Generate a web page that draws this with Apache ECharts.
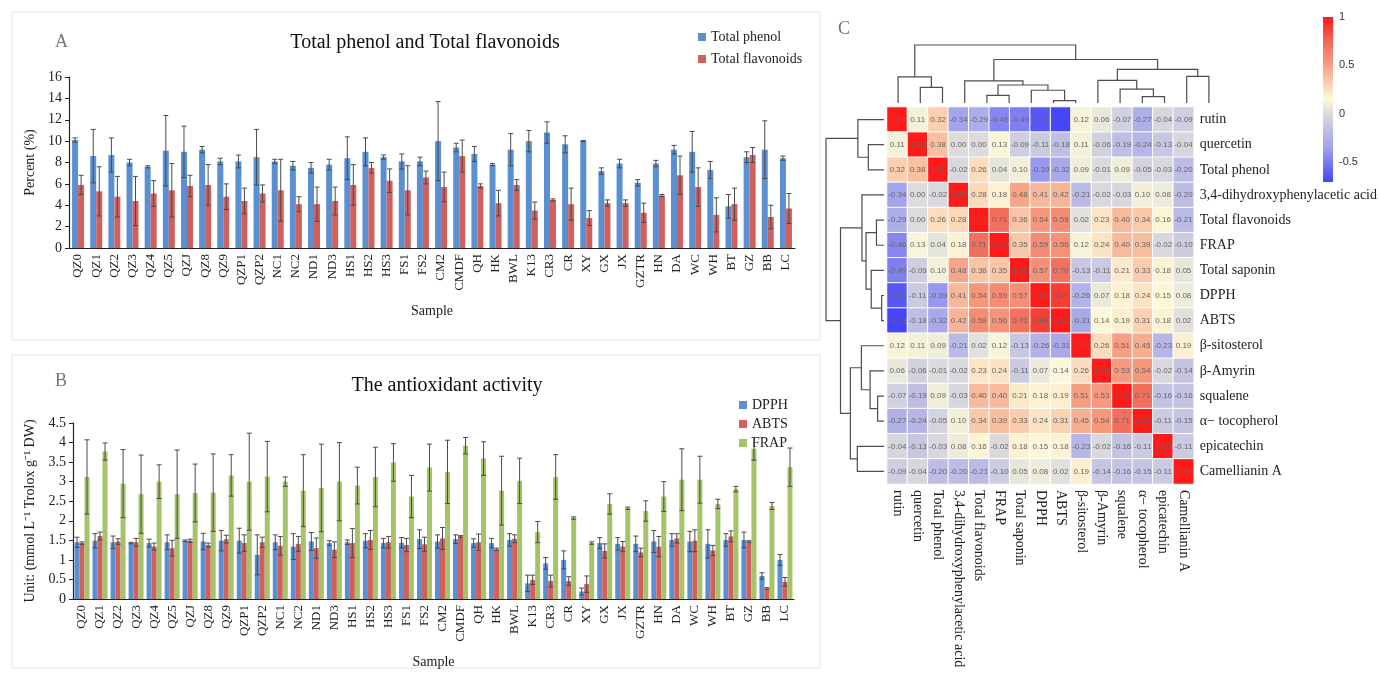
<!DOCTYPE html>
<html><head><meta charset="utf-8">
<script src="https://cdn.jsdelivr.net/npm/echarts@6/dist/echarts.min.js"></script>
<style>html,body{margin:0;padding:0;background:#fff}#c{width:1380px;height:677px}</style>
</head><body><div id="c"></div>
<script>
const samples = ['QZ0','QZ1','QZ2','QZ3','QZ4','QZ5','QZJ','QZ8','QZ9','QZP1','QZP2','NC1','NC2','ND1','ND3','HS1','HS2','HS3','FS1','FS2','CM2','CMDF','QH','HK','BWL','K13','CR3','CR','XY','GX','JX','GZTR','HN','DA','WC','WH','BT','GZ','BB','LC'];
const phenol = [10.1,8.6,8.7,8.0,7.6,9.1,9.0,9.2,8.1,8.1,8.5,8.1,7.7,7.5,7.8,8.4,9.0,8.5,8.1,8.1,10.0,9.4,8.8,7.8,9.2,10.0,10.8,9.7,10.0,7.2,7.9,6.1,7.9,9.2,9.0,7.3,3.9,8.5,9.2,8.4];
const phenolErr = [0.2,2.5,1.6,0.3,0.1,3.3,2.4,0.3,0.3,0.6,2.6,0.2,0.4,0.5,0.5,2.0,1.3,0.2,0.7,0.4,3.7,0.4,0.7,0.1,1.5,1.0,1.0,0.8,0.05,0.3,0.4,0.3,0.3,0.4,1.9,0.8,1.1,0.5,2.7,0.2];
const flav = [5.9,5.3,4.8,4.4,5.1,5.4,5.8,5.9,4.8,4.4,5.1,5.4,4.1,4.1,4.4,5.9,7.5,6.3,5.4,6.6,5.7,8.6,5.8,4.2,5.9,3.5,4.5,4.1,2.8,4.2,4.2,3.3,4.9,6.8,5.7,3.1,4.1,8.7,2.9,3.7];
const flavErr = [0.9,2.3,1.9,2.3,1.2,2.5,1.0,1.9,1.2,1.2,0.8,2.9,0.7,1.6,1.3,1.9,0.5,1.1,2.3,0.6,1.4,1.5,0.2,1.2,0.5,0.8,0.1,1.5,0.7,0.3,0.3,0.9,0.1,1.8,1.8,1.6,1.5,0.7,1.1,1.4];
const dpph = [1.45,1.49,1.45,1.43,1.43,1.45,1.49,1.47,1.49,1.49,1.13,1.45,1.34,1.47,1.43,1.45,1.49,1.43,1.44,1.53,1.47,1.53,1.43,1.43,1.51,0.40,0.91,1.00,0.19,1.43,1.41,1.41,1.47,1.51,1.47,1.41,1.51,1.51,0.59,1.00];
const dpphErr = [0.13,0.18,0.16,0.02,0.1,0.19,0.02,0.21,0.26,0.32,0.51,0.19,0.33,0.23,0.06,0.06,0.18,0.12,0.13,0.24,0.17,0.11,0.11,0.12,0.16,0.21,0.15,0.23,0.09,0.14,0.16,0.2,0.28,0.16,0.26,0.36,0.16,0.2,0.08,0.14];
const abts = [1.43,1.61,1.47,1.45,1.34,1.30,1.49,1.38,1.53,1.43,1.45,1.36,1.41,1.30,1.26,1.43,1.51,1.45,1.38,1.40,1.55,1.60,1.45,1.27,1.54,0.49,0.46,0.46,0.38,1.23,1.34,1.19,1.34,1.55,1.49,1.24,1.60,1.47,0.27,0.44];
const abtsErr = [0.03,0.1,0.07,0.1,0.09,0.2,0.04,0.05,0.1,0.21,0.13,0.24,0.19,0.26,0.2,0.37,0.24,0.15,0.17,0.18,0.28,0.02,0.21,0.03,0.1,0.12,0.15,0.11,0.21,0.18,0.13,0.11,0.26,0.12,0.28,0.13,0.14,0.02,0.02,0.11];
const frap = [3.12,3.77,2.95,2.68,3.0,2.68,2.71,2.72,3.16,3.0,3.13,3.0,2.77,2.84,3.0,2.9,3.12,3.49,2.62,3.36,3.25,3.92,3.59,2.77,3.02,1.71,3.12,2.07,1.43,2.43,2.32,2.25,2.62,3.05,3.05,2.43,2.81,3.84,2.38,3.37];
const frapErr = [0.95,0.22,0.87,1.0,0.43,1.13,0.74,0.99,0.53,1.24,0.9,0.12,0.92,1.12,1.0,0.47,0.76,0.48,0.54,0.6,0.81,0.21,0.43,0.88,0.58,0.27,0.57,0.03,0.03,0.26,0.03,0.26,0.38,0.79,0.6,0.12,0.07,0.29,0.09,0.49];

const compounds = ['rutin','quercetin','Total phenol','3,4-dihydroxyphenylacetic acid','Total flavonoids','FRAP','Total saponin','DPPH','ABTS','β-sitosterol','β-Amyrin','squalene','α− tocopherol','epicatechin','Camellianin A'];
const corr = [
 [1.00,0.11,0.32,-0.34,-0.29,-0.46,-0.49,-0.64,-0.71,0.12,0.06,-0.07,-0.27,-0.04,-0.09],
 [0.11,1.00,0.38,0.00,0.00,0.13,-0.09,-0.11,-0.18,0.11,-0.06,-0.19,-0.24,-0.13,-0.04],
 [0.32,0.38,1.00,-0.02,0.26,0.04,0.10,-0.39,-0.32,0.09,-0.01,0.09,-0.05,-0.03,-0.20],
 [-0.34,0.00,-0.02,1.00,0.28,0.18,0.48,0.41,0.42,-0.21,-0.02,-0.03,0.10,0.08,-0.20],
 [-0.29,0.00,0.26,0.28,1.00,0.71,0.36,0.54,0.59,0.02,0.23,0.40,0.34,0.16,-0.21],
 [-0.46,0.13,0.04,0.18,0.71,1.00,0.35,0.59,0.56,0.12,0.24,0.40,0.39,-0.02,-0.10],
 [-0.49,-0.09,0.10,0.48,0.36,0.35,1.00,0.57,0.70,-0.13,-0.11,0.21,0.33,0.18,0.05],
 [-0.64,-0.11,-0.39,0.41,0.54,0.59,0.57,1.00,0.89,-0.26,0.07,0.18,0.24,0.15,0.08],
 [-0.71,-0.18,-0.32,0.42,0.59,0.56,0.70,0.89,1.00,-0.31,0.14,0.19,0.31,0.18,0.02],
 [0.12,0.11,0.09,-0.21,0.02,0.12,-0.13,-0.26,-0.31,1.00,0.26,0.51,0.45,-0.23,0.19],
 [0.06,-0.06,-0.01,-0.02,0.23,0.24,-0.11,0.07,0.14,0.26,1.00,0.53,0.54,-0.02,-0.14],
 [-0.07,-0.19,0.09,-0.03,0.40,0.40,0.21,0.18,0.19,0.51,0.53,1.00,0.71,-0.16,-0.16],
 [-0.27,-0.24,-0.05,0.10,0.34,0.39,0.33,0.24,0.31,0.45,0.54,0.71,1.00,-0.11,-0.15],
 [-0.04,-0.13,-0.03,0.08,0.16,-0.02,0.18,0.15,0.18,-0.23,-0.02,-0.16,-0.11,1.00,-0.11],
 [-0.09,-0.04,-0.20,-0.20,-0.21,-0.10,0.05,0.08,0.02,0.19,-0.14,-0.16,-0.15,-0.11,1.00]
];
// dendrogram merges: [childA, childB, height]; leaves 0..14, merged nodes 15..
const merges = [[7,8,0.04],[4,5,0.13],[11,12,0.11],[6,15,0.22],[1,2,0.27],[10,17,0.24],[16,18,0.31],[3,21,0.38],[9,20,0.39],[0,19,0.45],[13,14,0.46],[23,25,0.58],[22,26,0.75],[24,27,1.0]];
const colorTicks = [-0.5, 0, 0.5, 1];
const cMin = -0.71, cMax = 1;

const SERIF = "'Liberation Serif','Times New Roman',serif";
const SANS = "'Liberation Sans',Arial,sans-serif";
const stops = [[-0.71,'#4545fb'],[-0.35,'#a3a3ec'],[0,'#dcdcdc'],[0.15,'#fdf9d8'],[0.5,'#f6a084'],[0.8,'#f25a4c'],[1,'#ff1a1a']];
function hex2rgb(h){return [1,3,5].map(i=>parseInt(h.substr(i,2),16));}
function colorAt(v){
  for(let i=0;i<stops.length-1;i++){
    const [a,ca]=stops[i],[b,cb]=stops[i+1];
    if(v<=b){const t=(v-a)/(b-a);const A=hex2rgb(ca),B=hex2rgb(cb);
      return 'rgb('+A.map((x,k)=>Math.round(x+(B[k]-x)*t)).join(',')+')';}
  }
  return stops[stops.length-1][1];
}
const vmColors=[];for(let i=0;i<=40;i++){vmColors.push(colorAt(cMin+(cMax-cMin)*i/40));}

// dendrogram node positions
const pos=[],hgt=[];for(let i=0;i<15;i++){pos.push(i);hgt.push(0);}
const dendData=merges.map(m=>{const [a,b,h]=m;pos.push((pos[a]+pos[b])/2);hgt.push(h);return [pos[a],hgt[a],pos[b],hgt[b],h];});

const heatData=[];corr.forEach((row,r)=>row.forEach((v,c)=>heatData.push([c,r,v])));

function errSeries(vals,errs,offset,axis){
  return {type:'custom',xAxisIndex:axis,yAxisIndex:axis,silent:true,z:5,
    data:vals.map((v,i)=>[i,v,errs[i]]),
    renderItem(params,api){
      const i=api.value(0),v=api.value(1),e=api.value(2);
      const t=api.coord([i,v+e]),b=api.coord([i,Math.max(0,v-e)]);
      const x=t[0]+offset,c=2.5,st={stroke:'#4a4a4a',lineWidth:1};
      return {type:'group',children:[
        {type:'line',shape:{x1:x,y1:t[1],x2:x,y2:b[1]},style:st},
        {type:'line',shape:{x1:x-c,y1:t[1],x2:x+c,y2:t[1]},style:st},
        {type:'line',shape:{x1:x-c,y1:b[1],x2:x+c,y2:b[1]},style:st}]};
    }};
}
function dendSeries(axis,horizontal){
  return {type:'custom',xAxisIndex:axis,yAxisIndex:axis,silent:true,data:dendData,
    renderItem(params,api){
      const pa=api.value(0),ha=api.value(1),pb=api.value(2),hb=api.value(3),h=api.value(4);
      const P=horizontal?(p,hh)=>api.coord([hh,p]):(p,hh)=>api.coord([p,hh]);
      return {type:'polyline',shape:{points:[P(pa,ha),P(pa,h),P(pb,h),P(pb,hb)]},style:{stroke:'#4d4d4d',lineWidth:1.2,fill:null}};
    }};
}
const catAxis=(grid)=>({type:'category',gridIndex:grid,data:samples,
  axisLine:{lineStyle:{color:'#222',width:1.2}},axisTick:{show:false},
  axisLabel:{rotate:90,interval:0,fontFamily:SERIF,fontSize:13,color:'#222',margin:6},
  name:'Sample',nameLocation:'middle',nameGap:56,nameTextStyle:{fontFamily:SERIF,fontSize:14,color:'#222'}});

const chart=echarts.init(document.getElementById('c'));
chart.setOption({
  animation:false,
  graphic:[
    {type:'rect',shape:{x:12,y:12,width:808,height:328},style:{fill:null,stroke:'#e6e6e6',lineWidth:1}},
    {type:'rect',shape:{x:12,y:355,width:808,height:313},style:{fill:null,stroke:'#e6e6e6',lineWidth:1}},
    {type:'text',left:55,top:33,style:{text:'A',font:'18px '+SERIF,fill:'#777'}},
    {type:'text',left:55,top:372,style:{text:'B',font:'18px '+SERIF,fill:'#777'}},
    {type:'text',left:838,top:20,style:{text:'C',font:'18px '+SERIF,fill:'#777'}},
    {type:'text',x:425,y:43,style:{text:'Total phenol and Total flavonoids',font:'20px '+SERIF,fill:'#111',align:'center',verticalAlign:'middle'}},
    {type:'text',x:447,y:386,style:{text:'The antioxidant activity',font:'20px '+SERIF,fill:'#111',align:'center',verticalAlign:'middle'}}
  ],
  legend:[
    {left:693,top:25,orient:'vertical',itemWidth:8,itemHeight:8,itemGap:8,icon:'rect',
     textStyle:{fontFamily:SERIF,fontSize:14,color:'#222'},data:['Total phenol','Total flavonoids']},
    {left:734,top:393,orient:'vertical',itemWidth:8,itemHeight:8,itemGap:5,icon:'rect',
     textStyle:{fontFamily:SERIF,fontSize:14,color:'#222'},data:['DPPH','ABTS','FRAP']}
  ],
  grid:[
    {left:69,top:77,width:726,height:171},
    {left:73,top:423,width:721,height:176},
    {left:887,top:107,width:333,height:377},
    {left:887,top:45,width:333,height:58},
    {left:826,top:107,width:58,height:377},
    {left:1323,top:17,width:10,height:165}
  ],
  xAxis:[
    catAxis(0),catAxis(1),
    {type:'category',gridIndex:2,data:compounds,axisLine:{show:false},axisTick:{show:false},
     axisLabel:{rotate:-90,interval:0,fontFamily:SERIF,fontSize:14,color:'#222',margin:6}},
    {type:'value',gridIndex:3,min:-0.5,max:14.5,show:false},
    {type:'value',gridIndex:4,min:0,max:1,inverse:true,show:false},
    {type:'category',gridIndex:5,data:[''],show:false}
  ],
  yAxis:[
    {type:'value',gridIndex:0,min:0,max:16,interval:2,splitLine:{show:false},
     axisLine:{show:true,lineStyle:{color:'#222',width:1.2}},axisTick:{show:true,length:4,lineStyle:{color:'#222'}},
     axisLabel:{fontFamily:SERIF,fontSize:14,color:'#222',margin:7},
     name:'Percent (%)',nameLocation:'middle',nameGap:32,nameTextStyle:{fontFamily:SERIF,fontSize:14,color:'#222'}},
    {type:'value',gridIndex:1,min:0,max:4.5,interval:0.5,splitLine:{show:false},
     axisLine:{show:true,lineStyle:{color:'#222',width:1.2}},axisTick:{show:true,length:4,lineStyle:{color:'#222'}},
     axisLabel:{fontFamily:SERIF,fontSize:14,color:'#222',margin:7},
     name:'Unit: (mmol L⁻¹ Trolox g⁻¹ DW)',nameLocation:'middle',nameGap:36,nameTextStyle:{fontFamily:SERIF,fontSize:14,color:'#222'}},
    {type:'category',gridIndex:2,data:compounds,inverse:true,position:'right',axisLine:{show:false},axisTick:{show:false},
     axisLabel:{fontFamily:SERIF,fontSize:14,color:'#222',margin:6}},
    {type:'value',gridIndex:3,min:0,max:1,show:false},
    {type:'value',gridIndex:4,min:-0.5,max:14.5,inverse:true,show:false},
    {type:'value',gridIndex:5,min:cMin,max:cMax,position:'right',splitLine:{show:false},axisLine:{show:false},
     axisTick:{show:false},axisLabel:{customValues:colorTicks,fontFamily:SANS,fontSize:11,color:'#333',margin:6}}
  ],
  visualMap:{type:'continuous',show:false,min:cMin,max:cMax,seriesIndex:10,dimension:2,inRange:{color:vmColors}},
  series:[
    {name:'Total phenol',type:'bar',xAxisIndex:0,yAxisIndex:0,data:phenol,barWidth:6,barGap:'0%',itemStyle:{color:'#5a8fd2'}},
    {name:'Total flavonoids',type:'bar',xAxisIndex:0,yAxisIndex:0,data:flav,barWidth:6,barGap:'0%',itemStyle:{color:'#d0605b'}},
    errSeries(phenol,phenolErr,-3,0),
    errSeries(flav,flavErr,3,0),
    {name:'DPPH',type:'bar',xAxisIndex:1,yAxisIndex:1,data:dpph,barWidth:5,barGap:'0%',itemStyle:{color:'#5a8fd2'}},
    {name:'ABTS',type:'bar',xAxisIndex:1,yAxisIndex:1,data:abts,barWidth:5,barGap:'0%',itemStyle:{color:'#d0605b'}},
    {name:'FRAP',type:'bar',xAxisIndex:1,yAxisIndex:1,data:frap,barWidth:5,barGap:'0%',itemStyle:{color:'#a5c46a'}},
    errSeries(dpph,dpphErr,-5,1),
    errSeries(abts,abtsErr,0,1),
    errSeries(frap,frapErr,5,1),
    {type:'heatmap',xAxisIndex:2,yAxisIndex:2,data:heatData,
     itemStyle:{borderColor:'#fff',borderWidth:1},
     label:{show:true,fontSize:8,fontFamily:SANS,color:'#666',formatter:p=>p.value[2].toFixed(2)}},
    dendSeries(3,false),
    dendSeries(4,true),
    {type:'custom',xAxisIndex:5,yAxisIndex:5,silent:true,data:[[0]],
     renderItem(params,api){
       const t=api.coord([0,cMax]),b=api.coord([0,cMin]),w=api.size([1,0])[0];
       const gs=stops.map(s=>({offset:(cMax-s[0])/(cMax-cMin),color:s[1]}));
       return {type:'rect',shape:{x:t[0]-w/2,y:t[1],width:w,height:b[1]-t[1]},
         style:{fill:new echarts.graphic.LinearGradient(0,0,0,1,gs)}};
     }}
  ]
});
</script></body></html>
